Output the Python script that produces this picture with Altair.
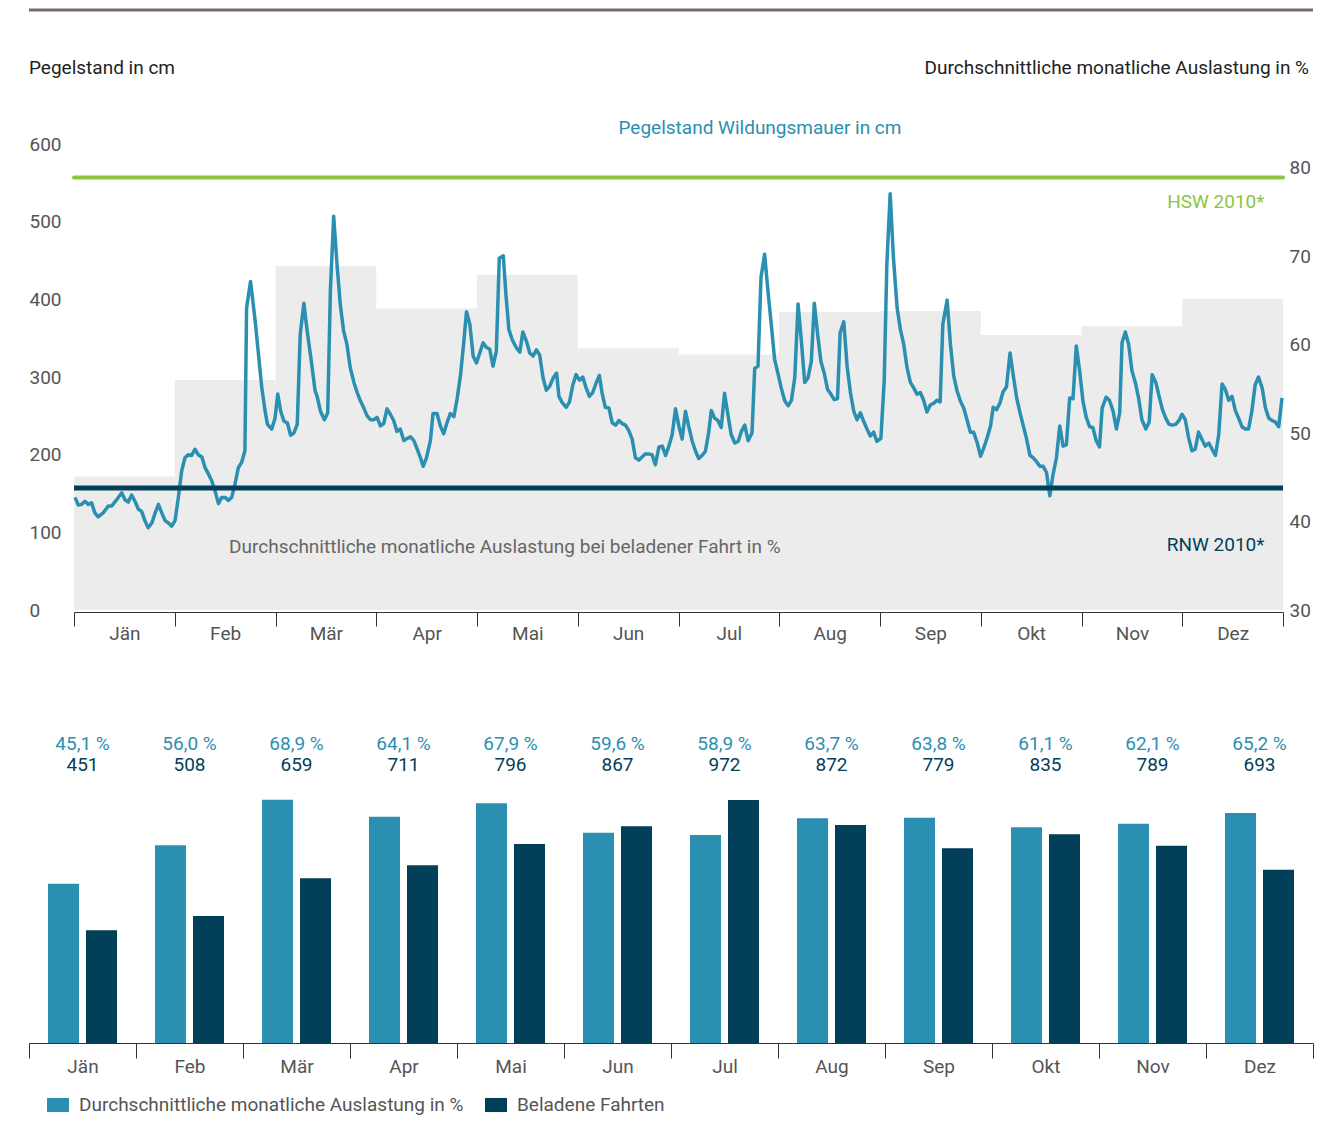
import altair as alt
import pandas as pd

FONT = "Roboto"
FS = 19
TEAL = "#2b8fb1"
DARK = "#023f59"
GREEN = "#8cc63f"
GRAYAREA = "#ececec"
LABEL = "#555555"

monate = ["Jän", "Feb", "Mär", "Apr", "Mai", "Jun", "Jul", "Aug", "Sep", "Okt", "Nov", "Dez"]
auslastung = [45.1, 56.0, 68.9, 64.1, 67.9, 59.6, 58.9, 63.7, 63.8, 61.1, 62.1, 65.2]
fahrten = [451, 508, 659, 711, 796, 867, 972, 872, 779, 835, 789, 693]

hsw = 557
rnw = 157

# (Tag im Jahr, Pegelstand in cm)
pegelstand = [
    (0.3, 145), (1.3, 135), (2.3, 136), (3.3, 140), (4.3, 136), (5.3, 138), (6.3, 125), (7.3, 120),
    (8.8, 125), (10.4, 134), (11.4, 134), (12.9, 142), (14.4, 151), (15.4, 142), (16.4, 139),
    (17.4, 148), (18.4, 140), (19.4, 130), (20.4, 127), (21.4, 115), (22.4, 106), (23.5, 112),
    (24.5, 125), (25.5, 136), (26.5, 125), (27.5, 115), (28.5, 112), (29.5, 108), (30.5, 115),
    (31.5, 145), (32.5, 179), (33.5, 196), (34.5, 200), (35.5, 199), (36.5, 207), (37.5, 200),
    (38.6, 197), (39.6, 183), (40.6, 175), (41.6, 166), (42.6, 153), (43.6, 137), (44.6, 145),
    (45.6, 145), (46.6, 141), (47.6, 145), (48.6, 162), (49.6, 183), (50.6, 190), (51.6, 205),
    (52.1, 389), (53.3, 423), (54.7, 372), (55.7, 329), (56.7, 286), (57.7, 256), (58.4, 239),
    (59.7, 233), (60.7, 247), (61.5, 278), (62.4, 256), (63.4, 243), (64.4, 241), (65.4, 225),
    (66.4, 228), (67.4, 239), (68.3, 355), (69.4, 395), (70.4, 359), (71.5, 325), (72.8, 282),
    (73.4, 275), (74.4, 256), (75.6, 245), (76.6, 254), (77.4, 411), (78.4, 507), (79.4, 445),
    (80.4, 393), (81.4, 359), (82.4, 342), (83.4, 312), (84.5, 293), (85.5, 280), (86.5, 269),
    (87.5, 260), (88.5, 250), (89.5, 245), (90.5, 245), (91.5, 248), (92.5, 237), (93.5, 240),
    (94.5, 259), (95.5, 252), (96.5, 244), (97.5, 230), (98.5, 233), (99.6, 218), (100.6, 221),
    (101.6, 223), (102.6, 218), (103.6, 207), (104.6, 196), (105.4, 185), (106.4, 196),
    (107.6, 218), (108.4, 253), (109.6, 253), (110.6, 237), (111.6, 227), (112.6, 241),
    (113.6, 253), (114.7, 249), (115.7, 273), (116.7, 303), (117.7, 346), (118.5, 384),
    (119.5, 368), (120.5, 327), (121.5, 318), (122.5, 331), (123.5, 344), (124.5, 338),
    (125.5, 336), (126.5, 314), (127.5, 333), (128.4, 453), (129.6, 456), (130.4, 406),
    (131.3, 361), (132.3, 348), (133.5, 338), (134.6, 332), (135.5, 358), (136.6, 346),
    (137.6, 331), (138.6, 327), (139.6, 335), (140.6, 328), (141.6, 299), (142.6, 283),
    (143.6, 288), (144.7, 299), (145.7, 305), (146.4, 275), (147.4, 267), (148.6, 261),
    (149.6, 268), (150.6, 290), (151.6, 303), (152.6, 296), (153.6, 300), (154.6, 286),
    (155.6, 275), (156.6, 280), (157.6, 292), (158.6, 302), (159.4, 280), (160.4, 261),
    (161.5, 260), (162.5, 241), (163.5, 238), (164.5, 244), (165.5, 240), (166.5, 238),
    (167.5, 231), (168.5, 220), (169.5, 196), (170.5, 193), (171.5, 197), (172.5, 201),
    (173.5, 201), (174.5, 200), (175.5, 187), (176.6, 210), (177.6, 211), (178.6, 199),
    (179.6, 211), (180.6, 226), (181.6, 259), (182.6, 237), (183.6, 220), (184.6, 256),
    (185.6, 236), (186.6, 218), (187.6, 205), (188.6, 195), (189.6, 199), (190.6, 204),
    (191.6, 228), (192.4, 257), (193.4, 247), (194.4, 244), (195.4, 235), (196.4, 279),
    (197.4, 252), (198.4, 226), (199.5, 215), (200.5, 217), (201.5, 230), (202.5, 238),
    (203.5, 218), (204.7, 228), (205.5, 311), (206.5, 314), (207.4, 428), (208.5, 458),
    (209.5, 411), (210.5, 368), (211.5, 323), (212.5, 305), (213.5, 286), (214.6, 269),
    (215.6, 263), (216.6, 270), (217.6, 299), (218.6, 394), (219.6, 346), (220.6, 293),
    (221.6, 299), (222.6, 320), (223.5, 395), (224.5, 355), (225.5, 320), (226.5, 305),
    (227.5, 284), (228.5, 278), (229.5, 271), (230.5, 272), (231.3, 357), (232.4, 371),
    (233.4, 314), (234.4, 280), (235.4, 256), (236.4, 245), (237.4, 254), (238.4, 243),
    (239.4, 233), (240.4, 224), (241.4, 229), (242.4, 217), (243.6, 221), (244.6, 295),
    (245.4, 445), (246.4, 536), (247.4, 453), (248.5, 389), (249.5, 361), (250.5, 342),
    (251.5, 312), (252.5, 293), (253.5, 286), (254.5, 278), (255.5, 280), (256.5, 270),
    (257.5, 255), (258.5, 264), (259.5, 266), (260.5, 270), (261.5, 268), (262.3, 368),
    (263.6, 399), (264.6, 342), (265.6, 301), (266.6, 282), (267.6, 269), (268.6, 260),
    (269.6, 245), (270.6, 229), (271.6, 229), (272.7, 215), (273.7, 198), (274.7, 209),
    (275.7, 222), (276.7, 237), (277.5, 261), (278.5, 258), (279.5, 266), (280.5, 281),
    (281.5, 287), (282.6, 331), (283.6, 301), (284.6, 273), (285.6, 254), (286.6, 237),
    (287.6, 220), (288.6, 199), (289.6, 196), (290.6, 191), (291.6, 185), (292.6, 185),
    (293.6, 177), (294.6, 147), (295.6, 175), (296.6, 196), (297.6, 237), (298.6, 211),
    (299.6, 213), (300.6, 273), (301.6, 272), (302.6, 340), (303.6, 308), (304.6, 269),
    (305.6, 248), (306.6, 236), (307.6, 235), (308.6, 218), (309.6, 210), (310.4, 260),
    (311.6, 274), (312.6, 270), (313.7, 256), (314.7, 233), (315.7, 254), (316.4, 344),
    (317.4, 358), (318.4, 342), (319.4, 308), (320.4, 293), (321.4, 273), (322.4, 245),
    (323.6, 233), (324.6, 242), (325.5, 303), (326.6, 293), (327.6, 275), (328.6, 258),
    (329.6, 247), (330.6, 239), (331.6, 238), (332.6, 239), (333.6, 244), (334.5, 252),
    (335.5, 245), (336.5, 222), (337.5, 205), (338.5, 207), (339.5, 229), (340.5, 220),
    (341.5, 211), (342.6, 215), (343.6, 207), (344.6, 199), (345.6, 226), (346.6, 291),
    (347.6, 284), (348.6, 270), (349.6, 275), (350.6, 257), (351.6, 247), (352.6, 236),
    (353.6, 233), (354.6, 233), (355.6, 256), (356.6, 290), (357.6, 300), (358.7, 286),
    (359.7, 260), (360.7, 247), (361.7, 244), (362.7, 242), (363.7, 236), (364.7, 273),
]

SER1 = "Durchschnittliche monatliche Auslastung in %"
SER2 = "Beladene Fahrten"

df_line = pd.DataFrame(pegelstand, columns=["Tag", "Pegel"])
df_m = pd.DataFrame({"Monat": monate, "Auslastung": auslastung, "Fahrten": fahrten})
df_one = pd.DataFrame({"k": [0]})

# ---------------- top chart ----------------
W1, H1 = 1209, 466


def sx():
    return alt.Scale(domain=[0, 365], nice=False, zero=False)


def sy():
    return alt.Scale(domain=[0, 600], nice=False, zero=False)


step = alt.Chart(df_m).mark_bar(color=GRAYAREA).encode(
    x=alt.X("Monat:N", sort=monate,
            scale=alt.Scale(paddingInner=0, paddingOuter=0),
            axis=alt.Axis(title=None, tickBand="extent", labelAngle=0, tickSize=14,
                          labelPadding=7, labelBaseline="middle",
                          domainColor="#333333", tickColor="#333333", labelColor=LABEL,
                          labelFontSize=FS, labelFont=FONT, grid=False, offset=2)),
    y=alt.Y("Auslastung:Q",
            scale=alt.Scale(domain=[30, 82.7], zero=False, nice=False),
            axis=alt.Axis(orient="right", values=[30, 40, 50, 60, 70, 80], title=None,
                          ticks=False, tickSize=0, domain=False, labelPadding=6,
                          labelFontSize=FS, labelFont=FONT, labelColor=LABEL, grid=False)),
    y2=alt.datum(30),
)

line = alt.Chart(df_line).mark_line(color=TEAL, strokeWidth=3.5, strokeJoin="round").encode(
    x=alt.X("Tag:Q", scale=sx(), axis=None),
    y=alt.Y("Pegel:Q", scale=sy(),
            axis=alt.Axis(orient="left", values=[0, 100, 200, 300, 400, 500, 600], title=None,
                          ticks=False, tickSize=0, domain=False,
                          labelAlign="left", labelPadding=45, labelFontSize=FS,
                          labelFont=FONT, labelColor=LABEL, grid=False)),
)

hsw_rule = alt.Chart(df_one).mark_rule(color=GREEN, strokeWidth=4, strokeCap="round").encode(
    y=alt.Y(datum=hsw, scale=sy(), axis=None))
rnw_rule = alt.Chart(df_one).mark_rule(color=DARK, strokeWidth=5).encode(
    y=alt.Y(datum=rnw, scale=sy(), axis=None))


def label(text, tag, cm, color, align):
    return alt.Chart(df_one).mark_text(text=text, color=color, align=align, baseline="middle",
                                       fontSize=FS, font=FONT).encode(
        x=alt.X(datum=tag, scale=sx(), axis=None),
        y=alt.Y(datum=cm, scale=sy(), axis=None))


t_left = label("Pegelstand in cm", -13.59, 697.9, "#222222", "left")
t_right = label("Durchschnittliche monatliche Auslastung in %", 372.85, 697.9, "#222222", "right")
t_title = label("Pegelstand Wildungsmauer in cm", 207.1, 621, TEAL, "center")
t_hsw = label("HSW 2010*", 359.4, 525, GREEN, "right")
t_rnw = label("RNW 2010*", 359.4, 84, DARK, "right")
t_bel = label("Durchschnittliche monatliche Auslastung bei beladener Fahrt in %", 46.8, 81,
              "#666666", "left")

decor = alt.Chart(df_one).mark_rule(color="#7a6a66", strokeWidth=3).encode(
    x=alt.value(-45), x2=alt.value(1239), y=alt.value(-134), y2=alt.value(-134))

top = alt.layer(step, line, hsw_rule, rnw_rule, t_left, t_right, t_title, t_hsw, t_rnw, t_bel,
                decor).resolve_scale(x="independent", y="independent").properties(
    width=W1, height=H1)

# ---------------- bottom chart ----------------
H2 = 312

x_band_bot = alt.X(
    "Monat:N", sort=monate,
    scale=alt.Scale(paddingInner=0, paddingOuter=0, range=[-45, 1239]),
    axis=alt.Axis(title=None, tickBand="extent", labelAngle=0, tickSize=15, labelPadding=8,
                  labelBaseline="middle",
                  domainColor="#333333", tickColor="#333333", labelColor=LABEL,
                  labelFontSize=FS, labelFont=FONT, grid=False),
)
off_scale = alt.Scale(domain=[SER1, SER2], paddingInner=0.184, paddingOuter=0.5)
col_scale = alt.Scale(domain=[SER1, SER2], range=[TEAL, DARK])
legend = alt.Legend(orient="none", legendX=-27, legendY=363, direction="horizontal", title=None,
                    symbolType="M-1,-0.64L1,-0.64L1,0.64L-1,0.64Z", symbolSize=484,
                    symbolStrokeWidth=0, labelFontSize=FS, labelFont=FONT, labelColor=LABEL,
                    columnPadding=21, padding=0, labelOffset=10, labelLimit=600)

bar1 = alt.Chart(df_m).transform_calculate(Serie=f"'{SER1}'").mark_bar().encode(
    x=x_band_bot,
    xOffset=alt.XOffset("Serie:N", scale=off_scale),
    y=alt.Y("Auslastung:Q", scale=alt.Scale(domain=[0, 88.4], nice=False), axis=None),
    color=alt.Color("Serie:N", scale=col_scale, legend=legend),
)
bar2 = alt.Chart(df_m).transform_calculate(Serie=f"'{SER2}'").mark_bar().encode(
    x=x_band_bot,
    xOffset=alt.XOffset("Serie:N", scale=off_scale),
    y=alt.Y("Fahrten:Q", scale=alt.Scale(domain=[0, 1248], nice=False), axis=None),
    color=alt.Color("Serie:N", scale=col_scale, legend=legend),
)
txt1 = alt.Chart(df_m).transform_calculate(
    T="replace(format(datum.Auslastung, '.1f'), '.', ',') + ' %'"
).mark_text(color=TEAL, fontSize=FS, font=FONT, baseline="middle").encode(
    x=x_band_bot, y=alt.value(13), text="T:N")
txt2 = alt.Chart(df_m).mark_text(color=DARK, fontSize=FS, font=FONT, baseline="middle").encode(
    x=x_band_bot, y=alt.value(34), text=alt.Text("Fahrten:Q", format="d"))

bottom = alt.layer(bar1, bar2, txt1, txt2).resolve_scale(y="independent").properties(
    width=W1, height=H2)

chart = alt.vconcat(top, bottom, spacing=88).resolve_scale(color="independent").resolve_legend(
    color="independent").properties(
    padding={"left": 19, "top": 0, "right": -44, "bottom": 0},
).configure(font=FONT, view=alt.ViewConfig(stroke=None))

chart.save("out.html", embed_options={"renderer": "svg", "actions": False})
